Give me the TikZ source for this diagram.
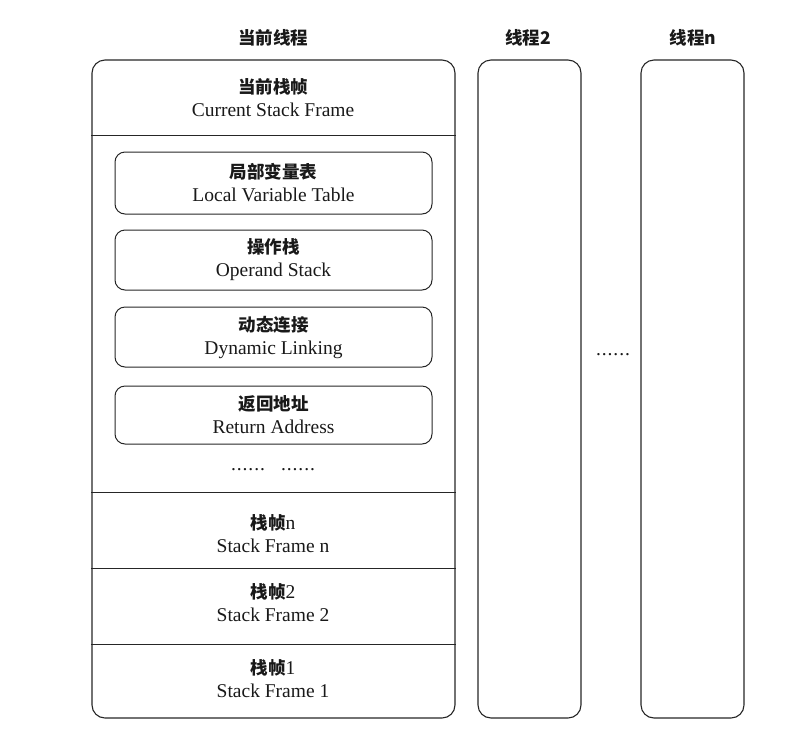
\documentclass[tikz,border=0pt]{standalone}
\usepackage{fontspec}
\setmainfont{Liberation Serif}
\newfontfamily\cjk{Noto Sans CJK SC}
\newcommand\sixdots{\makebox[34pt]{.\hfill.\hfill.\hfill.\hfill.\hfill.}}
\begin{document}
\begin{tikzpicture}[x=1pt,y=-1pt,
  box/.style={draw=black!85, line width=1.1pt, rounded corners=13pt, inner sep=0pt},
  inbox/.style={draw=black!85, line width=1pt, rounded corners=10pt, inner sep=0pt, minimum width=317pt},
  lbl/.style={align=center, font=\fontsize{19.5}{23}\selectfont, text=black!90},
  ttl/.style={font=\cjk\bfseries\fontsize{17.5}{20}\selectfont, text=black!90},
  divider/.style={draw=black!85, line width=1pt}]
\newcommand\zh[1]{{\cjk\bfseries\fontsize{17.5}{20}\selectfont #1}}
\useasboundingbox (0,0) rectangle (800,729);
% titles
\node[ttl] (t1) at (273,38) {当前线程};
\node[ttl] (t2) at (528,38) {线程2};
\node[ttl] (t3) at (693,38) {线程n};
% thread boxes
\node[box, minimum width=363pt, minimum height=658pt] (main) at (273.5,389) {};
\node[box, minimum width=103pt, minimum height=658pt] (th2) at (529.5,389) {};
\node[box, minimum width=103pt, minimum height=658pt] (thn) at (692.5,389) {};
% dividers
\coordinate (d1) at (0,135); \coordinate (d2) at (0,492);
\coordinate (d3) at (0,568); \coordinate (d4) at (0,644);
\draw[divider] (main.west |- d1) -- (main.east |- d1);
\draw[divider] (main.west |- d2) -- (main.east |- d2);
\draw[divider] (main.west |- d3) -- (main.east |- d3);
\draw[divider] (main.west |- d4) -- (main.east |- d4);
% section labels
\node[lbl] (cur) at (273,98) {\zh{当前栈帧}\\Current Stack Frame};
\node[lbl] (sfn) at (273,534) {\zh{栈帧}n\\Stack Frame n};
\node[lbl] (sf2) at (273,603) {\zh{栈帧}2\\Stack Frame 2};
\node[lbl] (sf1) at (273,679) {\zh{栈帧}1\\Stack Frame 1};
% inner boxes
\node[inbox, minimum height=62pt] (lvt) at (273.5,183) {};
\node[lbl] at (lvt) {\zh{局部变量表}\\Local Variable Table};
\node[inbox, minimum height=60pt] (ops) at (273.5,260) {};
\node[lbl] at (ops) {\zh{操作栈}\\Operand Stack};
\node[inbox, minimum height=60pt] (dyn) at (273.5,337) {};
\node[lbl] at (dyn) {\zh{动态连接}\\Dynamic Linking};
\node[inbox, minimum height=58pt] (ret) at (273.5,415) {};
\node[lbl] at (ret) {\zh{返回地址}\\Return Address};
% dots
\node[lbl] (dots1) at (273,470) {\sixdots\hspace{16pt}\sixdots};
\node[lbl] (dots2) at (613,355) {\sixdots};
\end{tikzpicture}
\end{document}
